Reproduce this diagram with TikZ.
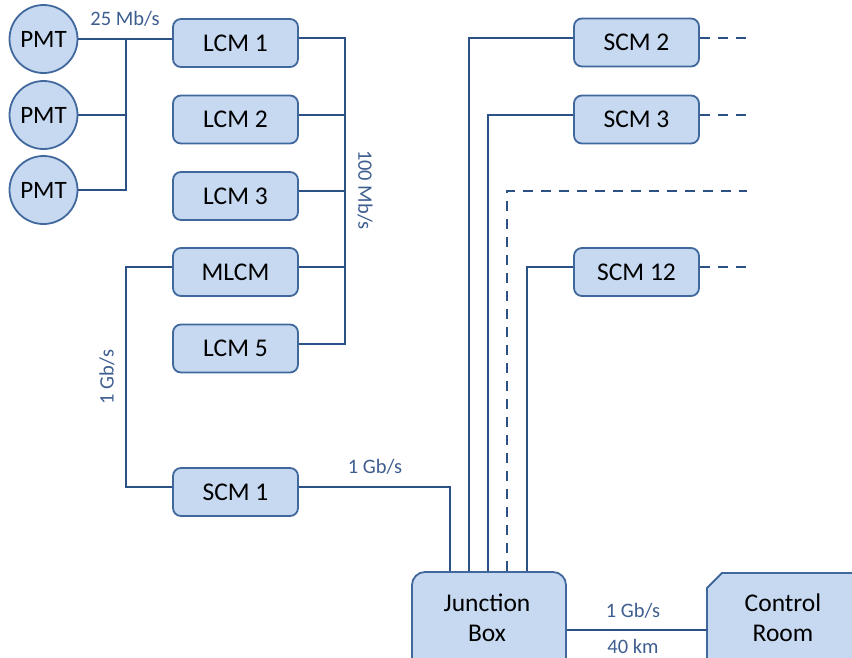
\documentclass[tikz,border=0pt]{standalone}
\usepackage{fontspec}
\setmainfont{Carlito}
\definecolor{fillb}{HTML}{C6D9F1}
\definecolor{edgec}{HTML}{41689C}
\definecolor{wirec}{HTML}{2B5186}
\definecolor{lblc}{HTML}{3E5E90}
\begin{document}
\begin{tikzpicture}[x=1pt,y=-1pt,
  box/.style={draw=edgec, fill=fillb, line width=1.8pt, rounded corners=8pt,
    minimum width=125pt, minimum height=48pt, inner sep=0pt,
    font=\fontsize{25.5}{29}\selectfont},
  pmt/.style={circle, draw=edgec, fill=fillb, line width=1.8pt,
    minimum size=68pt, inner sep=0pt, font=\fontsize{25}{29}\selectfont},
  bigbox/.style={draw=edgec, fill=fillb, line width=1.8pt, rounded corners=13pt,
    minimum width=154pt, minimum height=116pt, inner sep=0pt},
  bigtext/.style={align=center, inner sep=0pt, font=\fontsize{25.5}{30}\selectfont},
  wire/.style={draw=wirec, line width=2pt},
  dwire/.style={wire, dash pattern=on 10pt off 8pt},
  lab/.style={text=lblc, inner sep=0pt, font=\fontsize{20.5}{24}\selectfont}]
\useasboundingbox (0,0) rectangle (852,657);

% PMTs
\node[pmt] (p1) at (43.5,39) {PMT};
\node[pmt] (p2) at (43.5,115) {PMT};
\node[pmt] (p3) at (43.5,190) {PMT};

% left column boxes
\node[box] (lcm1) at (235.5,43) {LCM 1};
\node[box] (lcm2) at (235.5,119.5) {LCM 2};
\node[box] (lcm3) at (235.5,196) {LCM 3};
\node[box] (mlcm) at (235.5,272) {MLCM};
\node[box] (lcm5) at (235.5,348.5) {LCM 5};
\node[box] (scm1) at (235.5,492) {SCM 1};

% right column boxes
\node[box] (scm2) at (636.5,42.5) {SCM 2};
\node[box] (scm3) at (636.5,119.5) {SCM 3};
\node[box] (scm12) at (636.5,272) {SCM 12};

% junction box
\node[bigbox] (jb) at (489,630) {};
\node[bigtext] (jbt) at (487,618) {Junction\\Box};

% control room (snipped corner)
\draw[draw=edgec, fill=fillb, line width=1.8pt]
  (707,700) -- (707,588) -- (722,573) -- (870,573) -- (870,700) -- cycle;
\coordinate (crw) at (707,630);
\node[bigtext] (crt) at (783,618) {Control\\Room};

% bus coordinates
\coordinate (bl) at (125.7,0);
\coordinate (br) at (345,0);
\coordinate (l1e) at ([yshift=5pt]lcm1.east);
\coordinate (l2e) at ([yshift=5pt]lcm2.east);
\coordinate (l3e) at ([yshift=5pt]lcm3.east);
\coordinate (mle) at ([yshift=5pt]mlcm.east);
\coordinate (mlw) at ([yshift=5pt]mlcm.west);
\coordinate (l5e) at ([yshift=5pt]lcm5.east);
\coordinate (s1w) at ([yshift=5pt]scm1.west);
\coordinate (s1e) at ([yshift=5pt]scm1.east);
\coordinate (s2w) at ([yshift=5pt]scm2.west);
\coordinate (s2e) at ([yshift=5pt]scm2.east);
\coordinate (s3w) at ([yshift=5pt]scm3.west);
\coordinate (s3e) at ([yshift=5pt]scm3.east);
\coordinate (s12w) at ([yshift=5pt]scm12.west);
\coordinate (s12e) at ([yshift=5pt]scm12.east);
\coordinate (ja) at ([xshift=-39pt]jb.north);
\coordinate (jbb) at ([xshift=-20pt]jb.north);
\coordinate (jc) at ([xshift=-1pt]jb.north);
\coordinate (jd) at ([xshift=18pt]jb.north);
\coordinate (je) at ([xshift=38pt]jb.north);
\coordinate (dend) at (747,191);
\coordinate (s2x) at (747,0);

% PMT bus
\draw[wire] (p1.east) -- (p1.east -| lcm1.west);
\draw[wire] (p3.east) -| (p1.east -| bl);
\draw[wire] (p2.east) -- (p2.east -| bl);

% 100 Mb/s bus
\draw[wire] (l1e) -| (l5e -| br) -- (l5e);
\draw[wire] (l2e) -- (l2e -| br);
\draw[wire] (l3e) -- (l3e -| br);
\draw[wire] (mle) -- (mle -| br);

% MLCM to SCM1
\draw[wire] (mlw) -| (s1w -| bl) -- (s1w);

% SCM1 to junction box
\draw[wire] (s1e) -| (ja);

% SCMs to junction box
\draw[wire] (s2w) -| (jbb);
\draw[wire] (s3w) -| (jc);
\draw[dwire] (jd) |- (dend);
\draw[wire] (s12w) -| (je);

% dashed stubs
\draw[dwire] (s2e) -- (s2e -| s2x);
\draw[dwire] (s3e) -- (s3e -| s2x);
\draw[dwire] (s12e) -- (s12e -| s2x);

% junction box to control room
\draw[wire] (jb.east) -- (crw);

% labels
\node[lab] (t25) at (125,19) {25 Mb/s};
\node[lab, rotate=-90] (t100) at (365,190) {100 Mb/s};
\node[lab, rotate=90] (t1a) at (107,377) {1 Gb/s};
\node[lab] (t1b) at (375,467) {1 Gb/s};
\node[lab] (t1c) at (633,611) {1 Gb/s};
\node[lab] (t40) at (633,646) {40 km};
\end{tikzpicture}
\end{document}
